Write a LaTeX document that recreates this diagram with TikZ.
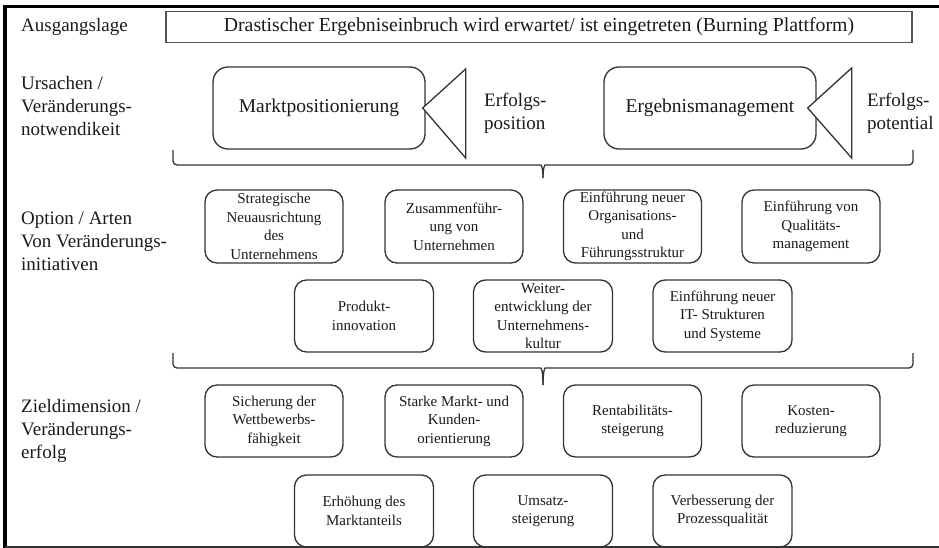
\documentclass[tikz,border=0pt]{standalone}
\usepackage{fontspec}
\setmainfont{Liberation Serif}
\usetikzlibrary{calc}
\definecolor{ink}{HTML}{1A1A1A}
\definecolor{edge}{HTML}{333333}
\definecolor{frame}{HTML}{555555}
\begin{document}
\begin{tikzpicture}[x=1pt,y=-1pt,
  rowlabel/.style={anchor=west, align=left, inner sep=0pt, text=ink,
    font=\fontsize{19}{23}\selectfont},
  sidenote/.style={anchor=west, align=left, inner sep=0pt, text=ink,
    font=\fontsize{19}{23}\selectfont},
  headbox/.style={draw=frame, line width=1.3pt, minimum width=746pt,
    minimum height=31pt, inner sep=0pt, text=ink,
    font=\fontsize{19.8}{22}\selectfont},
  causebox/.style={draw=edge, line width=1.3pt, rounded corners=15pt,
    minimum width=212pt, minimum height=82pt, inner sep=0pt, text=ink,
    font=\fontsize{19.5}{23}\selectfont},
  itembox/.style={draw=edge, line width=1.3pt, rounded corners=12pt,
    minimum width=138pt, minimum height=72pt, inner sep=0pt, align=center,
    text=ink, font=\fontsize{15}{18.5}\selectfont},
  wedge/.style={draw=edge, line width=1.3pt, fill=white, line join=miter},
  brace/.style={draw=edge, line width=1.3pt},
]
\useasboundingbox (0,0) rectangle (939,548);

% outer frame: heavy rule on top and left, thin rule at the bottom
\draw[line width=3.5pt, black] (939,6.5) -- (5,6.5) -- (5,548);
\draw[line width=1.5pt, edge] (5,547) -- (939,547);

% row labels
\node[rowlabel] (l1) at (21,27) {Ausgangslage};
\node[rowlabel] (l2) at (21,106) {Ursachen /\\Veränderungs-\\notwendikeit};
\node[rowlabel] (l3) at (21,241) {Option / Arten\\Von Veränderungs-\\initiativen};
\node[rowlabel] (l4) at (21,431) {Zieldimension /\\Veränderungs-\\erfolg};

% starting situation
\node[headbox] (head) at (539,27) {Drastischer Ergebniseinbruch wird erwartet/ ist eingetreten (Burning Plattform)};

% causes
\node[causebox] (mp) at (319,108) {Marktpositionierung};
\node[causebox] (eg) at (710,108) {Ergebnismanagement};
\draw[wedge] ($(mp.east)+(-3,0)$) -- ++(43,-39) -- ++(0,89) -- cycle;
\draw[wedge] ($(eg.east)+(-9,0)$) -- ++(44,-40) -- ++(0,90) -- cycle;
\node[sidenote] (ep) at (484,113) {Erfolgs-\\position};
\node[sidenote] (et) at (867,113) {Erfolgs-\\potential};

% brace below the causes
\coordinate (b1l) at (173,150);
\coordinate (b1r) at (913,150);
\coordinate (b1m) at (543,178);
\draw[brace, rounded corners=4pt] (b1l) |- (537,165) .. controls (541,165) and (543,167) .. (b1m);
\draw[brace, rounded corners=4pt] (b1r) |- (549,165) .. controls (545,165) and (543,167) .. (b1m);

% change initiatives
\node[itembox, minimum height=73pt] (o1) at (274,226.5) {Strategische\\Neuausrichtung\\des\\Unternehmens};
\node[itembox, minimum height=73pt] (o2) at (454,226.5) {Zusammenführ-\\ung von\\Unternehmen};
\node[itembox, minimum height=73pt] (o3) at (632.5,226.5) {Einführung neuer\\Organisations-\\und\\Führungsstruktur};
\node[itembox, minimum height=73pt] (o4) at (811,226.5) {Einführung von\\Qualitäts-\\management};
\node[itembox, minimum width=139pt] (o5) at (364,316) {Produkt-\\innovation};
\node[itembox, minimum width=139pt] (o6) at (543,316) {Weiter-\\entwicklung der\\Unternehmens-\\kultur};
\node[itembox, minimum width=139pt] (o7) at (722.5,316) {Einführung neuer\\IT- Strukturen\\und Systeme};

% brace below the initiatives
\coordinate (b2l) at (173,353);
\coordinate (b2r) at (913,353);
\coordinate (b2m) at (543,385);
\draw[brace, rounded corners=4pt] (b2l) |- (537,368) .. controls (541,368) and (543,370) .. (b2m);
\draw[brace, rounded corners=4pt] (b2r) |- (549,368) .. controls (545,368) and (543,370) .. (b2m);

% target dimensions
\node[itembox] (z1) at (274,421) {Sicherung der\\Wettbewerbs-\\fähigkeit};
\node[itembox] (z2) at (454,421) {Starke Markt- und\\Kunden-\\orientierung};
\node[itembox] (z3) at (632.5,421) {Rentabilitäts-\\steigerung};
\node[itembox] (z4) at (811,421) {Kosten-\\reduzierung};
\node[itembox, minimum width=139pt] (z5) at (364,511) {Erhöhung des\\Marktanteils};
\node[itembox, minimum width=139pt] (z6) at (543,511) {Umsatz-\\steigerung};
\node[itembox, minimum width=139pt] (z7) at (722.5,511) {Verbesserung der\\Prozessqualität};
\end{tikzpicture}
\end{document}
